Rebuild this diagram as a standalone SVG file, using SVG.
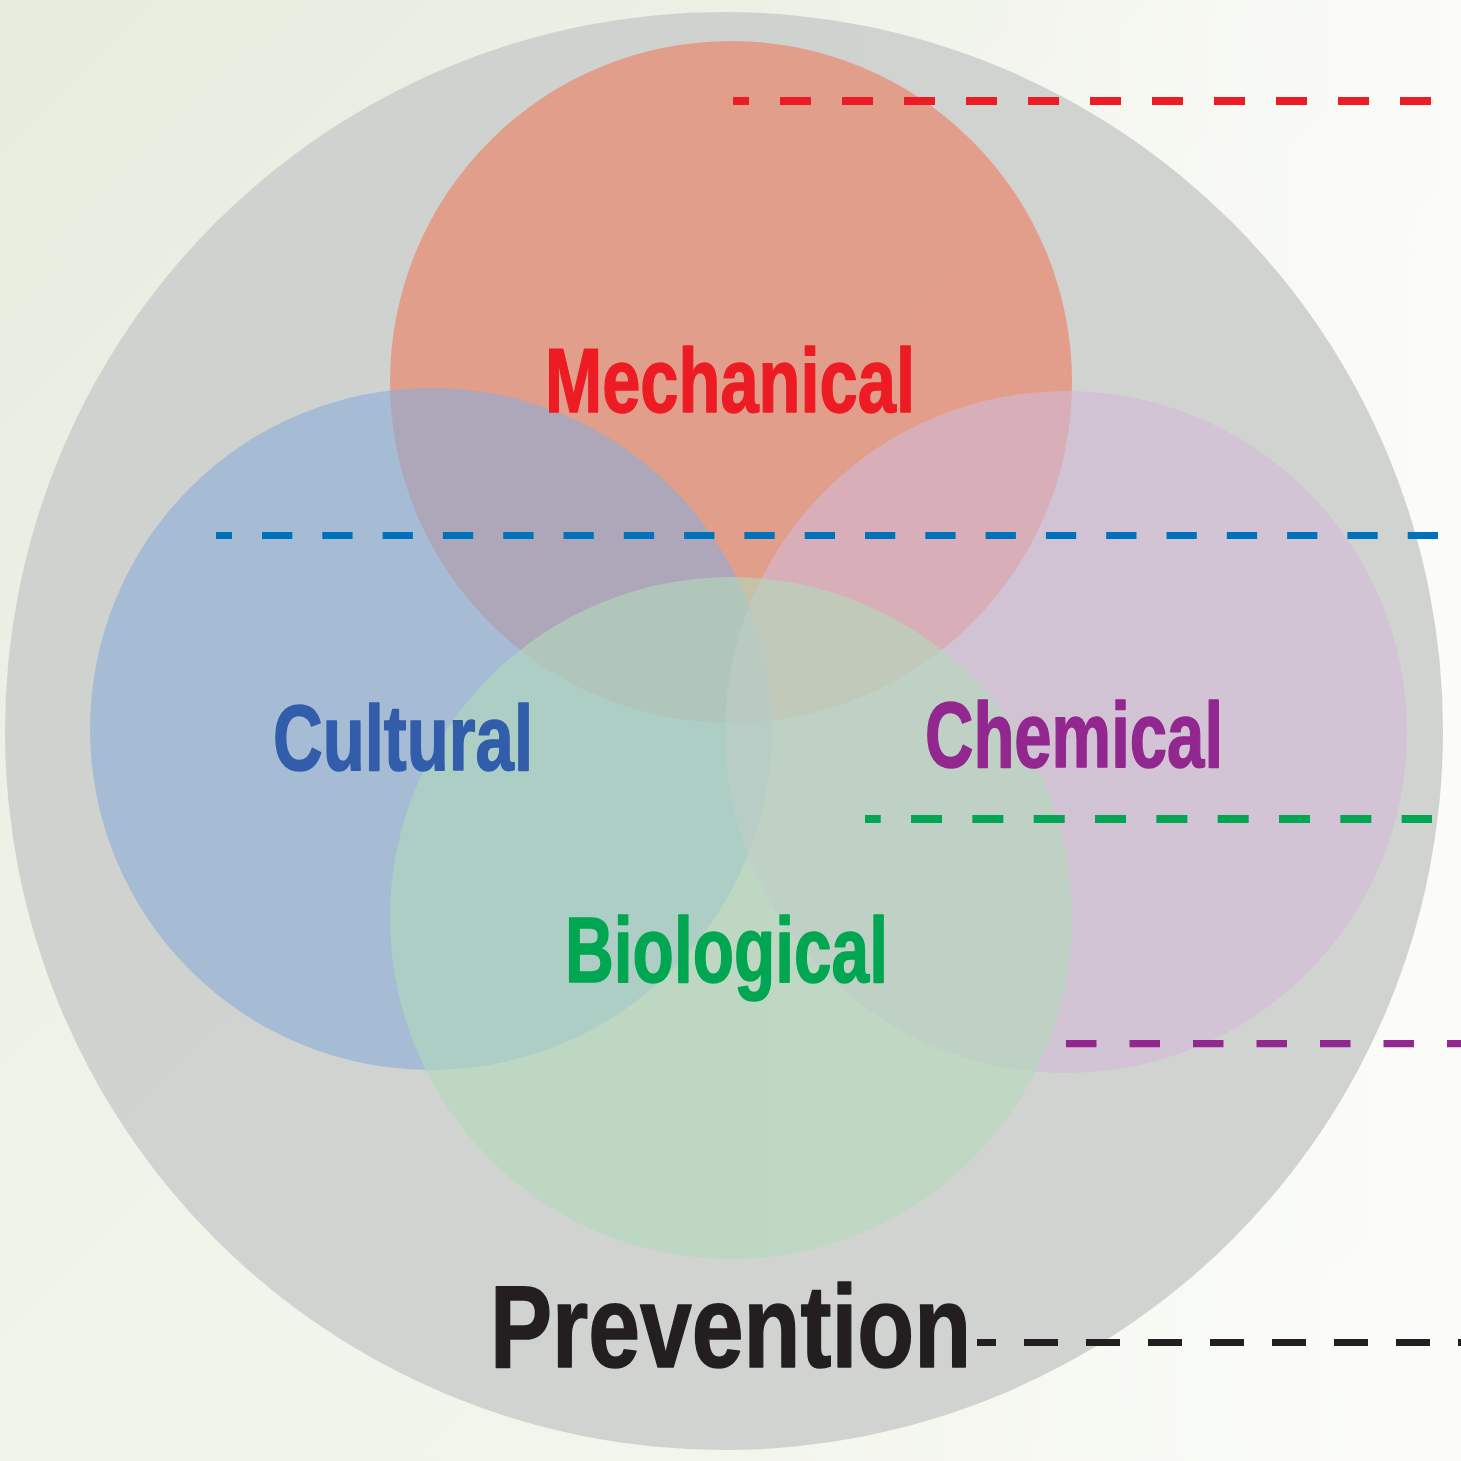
<svg xmlns="http://www.w3.org/2000/svg" width="1461" height="1461" viewBox="0 0 1461 1461">
  <defs>
    <linearGradient id="bg" x1="0" y1="0" x2="1" y2="1">
      <stop offset="0" stop-color="#E7ECDF"/>
      <stop offset="0.5" stop-color="#F1F4EA"/>
      <stop offset="1" stop-color="#F4F7EE"/>
    </linearGradient>
    <linearGradient id="bg2" x1="1" y1="0" x2="0" y2="0">
      <stop offset="0" stop-color="#FFFFFF" stop-opacity="0.7"/>
      <stop offset="0.5" stop-color="#FFFFFF" stop-opacity="0"/>
    </linearGradient>
    <style>
      .set { opacity: 0.6; }
      .label { font-family: "Liberation Sans", Arial, sans-serif; font-weight: bold; stroke-width: 1.6; stroke-linejoin: round; }
      .dash { fill: none; }
    </style>
  </defs>
  <rect x="0" y="0" width="1461" height="1461" fill="url(#bg)"/>
  <rect x="0" y="0" width="1461" height="1461" fill="url(#bg2)"/>

  <g id="node-prevention">
    <circle cx="724" cy="731" r="719" fill="#CDD0CE" opacity="0.93"/>
  </g>

  <g id="circles">
    <circle id="circle-mechanical" class="set" cx="731" cy="382" r="341" fill="#ED7B5C"/>
    <circle id="circle-cultural" class="set" cx="431" cy="729" r="341" fill="#8AADD9"/>
    <circle id="circle-chemical" class="set" cx="1066" cy="732" r="341" fill="#D2B9D7"/>
    <circle id="circle-biological" class="set" cx="731" cy="918" r="341" fill="#B2DABB"/>
  </g>

  <g id="connectors">
    <line class="dash" x1="733" y1="101" x2="1431" y2="101" stroke="#ED1C24" stroke-width="8" stroke-dasharray="31 31" stroke-dashoffset="15"/>
    <line class="dash" x1="216" y1="535.5" x2="1439" y2="535.5" stroke="#0072BC" stroke-width="7" stroke-dasharray="30.3 30" stroke-dashoffset="14.3"/>
    <line class="dash" x1="865" y1="819" x2="1432" y2="819" stroke="#00A651" stroke-width="8" stroke-dasharray="31 30.33" stroke-dashoffset="15.3"/>
    <line class="dash" x1="1066" y1="1043.7" x2="1461" y2="1043.7" stroke="#92278F" stroke-width="7.3" stroke-dasharray="30.5 33" stroke-dashoffset="0"/>
    <line class="dash" x1="977" y1="1342.5" x2="1461" y2="1342.5" stroke="#231F20" stroke-width="7" stroke-dasharray="34 28" stroke-dashoffset="15"/>
  </g>

  <g id="node-mechanical">
    <text class="label" x="545" y="412" font-size="91" fill="#ED1C24" stroke="#ED1C24" textLength="370" lengthAdjust="spacingAndGlyphs">Mechanical</text>
  </g>
  <g id="node-cultural">
    <text class="label" x="273" y="770" font-size="93" fill="#325DAA" stroke="#325DAA" textLength="260" lengthAdjust="spacingAndGlyphs">Cultural</text>
  </g>
  <g id="node-chemical">
    <text class="label" x="925" y="767" font-size="92" fill="#92278F" stroke="#92278F" textLength="298" lengthAdjust="spacingAndGlyphs">Chemical</text>
  </g>
  <g id="node-biological">
    <text class="label" x="565" y="982" font-size="93" fill="#00A651" stroke="#00A651" textLength="323" lengthAdjust="spacingAndGlyphs">Biological</text>
  </g>
  <g id="node-prevention-label">
    <text class="label" x="490" y="1367" font-size="117" fill="#231F20" stroke="#231F20" stroke-width="2" textLength="481" lengthAdjust="spacingAndGlyphs">Prevention</text>
  </g>
</svg>
